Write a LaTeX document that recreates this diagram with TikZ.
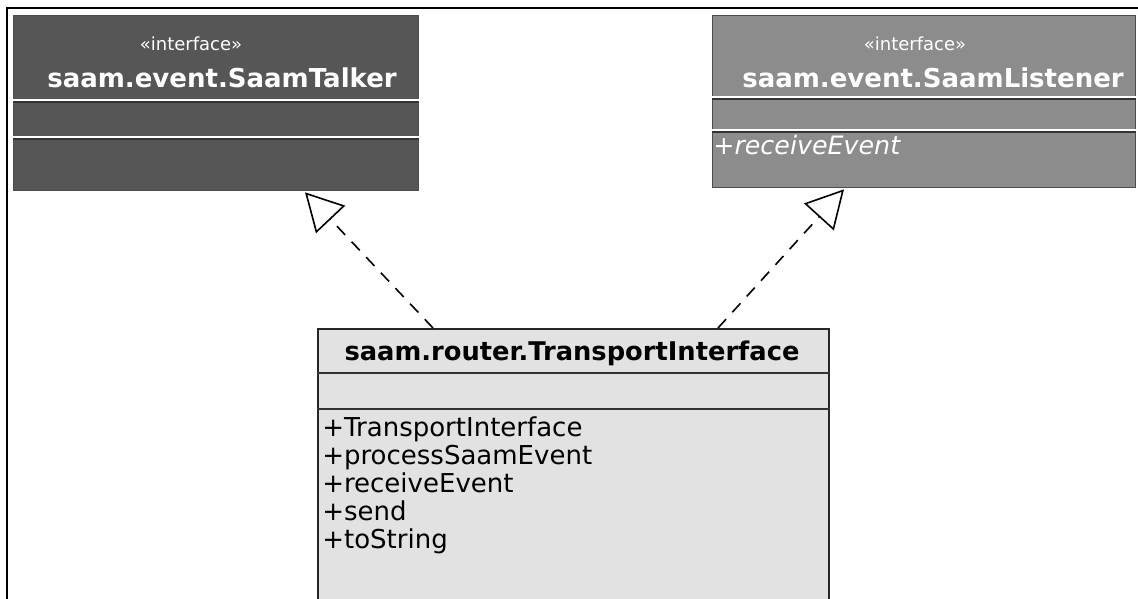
\documentclass[tikz,border=0pt]{standalone}
\usepackage{fontspec}
\setmainfont{DejaVu Sans}
\usetikzlibrary{arrows.meta,calc}
\definecolor{darkbox}{HTML}{565656}
\definecolor{midbox}{HTML}{8C8C8C}
\definecolor{lightbox}{HTML}{E2E2E2}
\tikzset{
  px/.style={x=0.75pt,y=-0.75pt},
  umlbox/.style={rectangle, anchor=north west, inner sep=0pt, line width=1pt},
  stereo/.style={inner sep=0pt, font=\fontsize{13.5}{15}\selectfont, text=white},
  cname/.style={inner sep=0pt, font=\fontsize{19.5}{22}\selectfont\bfseries, text=white},
  member/.style={inner sep=0pt, anchor=west, text height=14pt, text depth=4pt, font=\fontsize{19.5}{22}\selectfont},
  lightsep/.style={draw=white, line width=1.3pt},
  darksep/.style={draw=black!80, line width=1.2pt},
  realize/.style={draw=black, line width=1.2pt, dash pattern=on 9pt off 7pt,
    -{Triangle[open, length=28pt, width=30pt, line width=1.2pt]}}
}
\begin{document}
\begin{tikzpicture}[px]
\clip (0,0) rectangle (1138,599);
\fill[white] (0,0) rectangle (1138,599);
% outer frame
\draw[line width=1.4pt] (7,599) -- (7,8) -- (1140,8);

% SaamTalker
\node[umlbox, fill=darkbox, draw=black!70, minimum width=303.75pt, minimum height=131.25pt] (talker) at (13,15) {};
\node[stereo] (talkerst) at (191,44) {«interface»};
\node[cname] (talkername) at (222,78) {saam.event.SaamTalker};
\draw[darksep] ($(talker.north west)+(0,87)$) -- ($(talker.north east)+(0,87)$);
\draw[lightsep] ($(talker.north west)+(0,85)$) -- ($(talker.north east)+(0,85)$);
\draw[darksep] ($(talker.north west)+(0,124)$) -- ($(talker.north east)+(0,124)$);
\draw[lightsep] ($(talker.north west)+(0,122)$) -- ($(talker.north east)+(0,122)$);

% SaamListener
\node[umlbox, fill=midbox, draw=black!70, minimum width=317.25pt, minimum height=129pt] (listener) at (712,15) {};
\node[stereo] (listenerst) at (915,44) {«interface»};
\node[cname] (listenername) at (933,78) {saam.event.SaamListener};
\draw[darksep] ($(listener.north west)+(0,84)$) -- ($(listener.north east)+(0,84)$);
\draw[lightsep] ($(listener.north west)+(0,82)$) -- ($(listener.north east)+(0,82)$);
\draw[darksep] ($(listener.north west)+(0,117)$) -- ($(listener.north east)+(0,117)$);
\draw[lightsep] ($(listener.north west)+(0,115)$) -- ($(listener.north east)+(0,115)$);
\node[member, text=white, font=\fontsize{19}{22}\selectfont\itshape] (lrecv) at (713,148) {+receiveEvent};

% TransportInterface
\node[umlbox, fill=lightbox, draw=black!85, line width=1.5pt, minimum width=383.25pt, minimum height=215pt] (ti) at (317,328) {};
\node[inner sep=0pt, font=\fontsize{19.3}{22}\selectfont\bfseries] (tiname) at (572,353) {saam.router.TransportInterface};
\draw[darksep] ($(ti.north west)+(0,45)$) -- ($(ti.north east)+(0,45)$);
\draw[darksep] ($(ti.north west)+(0,81)$) -- ($(ti.north east)+(0,81)$);
\node[member] (m1) at (322,430) {+TransportInterface};
\node[member] (m2) at (322,458) {+processSaamEvent};
\node[member] (m3) at (322,486) {+receiveEvent};
\node[member] (m4) at (322,514) {+send};
\node[member] (m5) at (322,542) {+toString};

% realization connectors
\path (talker.south west) ++(292,1) coordinate (talkertip);
\path (listener.south west) ++(132,1) coordinate (listenertip);
\path (ti.north west) ++(116,0) coordinate (tileft);
\path (ti.north west) ++(401,0) coordinate (tiright);
\draw[realize] (tileft) -- (talkertip);
\draw[realize] (tiright) -- (listenertip);
\end{tikzpicture}
\end{document}
